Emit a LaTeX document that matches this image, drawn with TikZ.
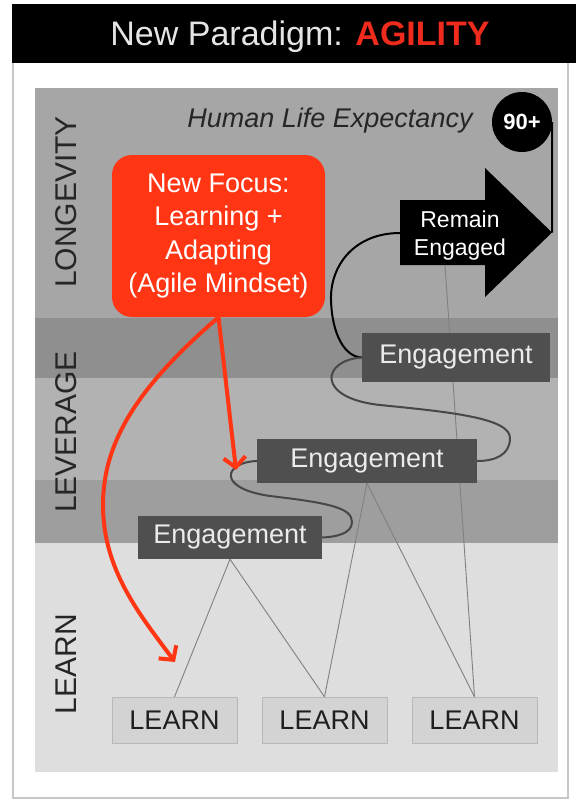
\documentclass[tikz,border=0pt]{standalone}
\usepackage{fontspec}
\setmainfont{Liberation Sans}
\usetikzlibrary{arrows.meta}

\definecolor{agilered}{HTML}{FF3514}
\definecolor{titlered}{HTML}{EE2B1C}
\definecolor{enggray}{HTML}{4F4F4F}
\definecolor{learngray}{HTML}{D3D3D3}

\begin{document}
\begin{tikzpicture}[x=1pt, y=-1pt,
		bandlabel/.style={rotate=90, text=black!85, font=\fontsize{30}{36}\selectfont},
		engbox/.style={fill=enggray, text=black!8, inner sep=0pt, font=\fontsize{27}{32}\selectfont},
		learnbox/.style={fill=learngray, draw=black!28, inner sep=0pt, minimum width=125pt, minimum height=46pt, text=black!88, font=\fontsize{27}{32}\selectfont},
		treeline/.style={draw=black!50, line width=0.9pt},
		loopline/.style={draw=black!72, line width=2pt},
		redarrow/.style={draw=agilered, line width=4pt, -{Straight Barb[length=10pt,width=22pt]}}]
		\useasboundingbox (0,0) rectangle (576,800);
		% Titel
		\fill[black] (12,4) rectangle (576,63);
		\node[anchor=base, font=\fontsize{34}{40}\selectfont, text=black!10] (title) at (300,46) {New Paradigm: \textcolor{titlered}{\bfseries AGILITY}};
		\draw[black!22, line width=1.5pt] (13,63) -- (13,798) -- (568,798) -- (568,63);
		% Streifen
		\fill[black!35] (35,88) rectangle (558,318);
		\fill[black!44] (35,318) rectangle (558,378);
		\fill[black!30] (35,378) rectangle (558,480);
		\fill[black!38] (35,480) rectangle (558,543);
		\fill[black!13] (35,543) rectangle (558,772);
		\node[bandlabel] (longevity) at (66,202) {LONGEVITY};
		\node[bandlabel] (leverage) at (66,432) {LEVERAGE};
		\node[bandlabel] (learn) at (66,664) {LEARN};
		% Oben
		\node[anchor=base, font=\itshape\fontsize{27}{32}\selectfont, text=black!85] (life) at (330,127) {Human Life Expectancy};
		\node[circle, fill=black, minimum size=60pt, inner sep=0pt, text=white, font=\bfseries\fontsize{22}{26}\selectfont] (age) at (522,122) {90+};
		\fill[black] (400,200) -- (485,200) -- (485,168) -- (552,232.5) -- (485,297) -- (485,265) -- (400,265) -- cycle;
		\coordinate (tail) at (400,233);
		\coordinate (tip) at (552,232.5);
		\coordinate (foot) at (445,265);
		\node[align=center, text=white, font=\fontsize{23}{28}\selectfont] (remain) at (460,236) {Remain\\Engaged};
		\draw[line width=2pt] (age.east) -- (tip);
		% LEARN Kaesten
		\node[learnbox] (learnA) at (174.5,720) {LEARN};
		\node[learnbox] (learnB) at (324.5,720) {LEARN};
		\node[learnbox] (learnC) at (474.5,720) {LEARN};
		\draw[treeline] (foot) -- (learnC.north);
		% Engagement Kaesten
		\node[engbox, minimum width=188pt, minimum height=49pt] (engA) at (456,357.5) {Engagement};
		\node[engbox, minimum width=220pt, minimum height=44pt] (engB) at (367,461) {Engagement};
		\node[engbox, minimum width=184pt, minimum height=43pt] (engC) at (230,537.5) {Engagement};
		\draw[treeline] (engC.south) -- (learnA.north);
		\draw[treeline] (engC.south) -- (learnB.north);
		\draw[treeline] (engB.south) -- (learnB.north);
		\draw[treeline] (engB.south) -- (learnC.north);
		% Schleifen
		\draw[line width=2pt] (tail) .. controls (355,233) and (330,265) .. (331,300) .. controls (332,335) and (345,357) .. (engA.west);
		\draw[loopline] (engA.west) .. controls (322,360) and (315,398) .. (380,405) .. controls (450,412) and (510,418) .. (510,438) .. controls (510,455) and (495,461) .. (engB.east);
		\draw[loopline] (engB.west) .. controls (225,462) and (215,488) .. (270,496) .. controls (330,503) and (352,508) .. (352,522) .. controls (352,534) and (335,537) .. (engC.east);
		% Fokus
		\node[fill=agilered, rounded corners=20pt, minimum width=213pt, minimum height=162pt, align=center, text=white, font=\fontsize{27}{33.5}\selectfont] (focus) at (218.5,236) {New Focus:\\Learning +\\Adapting\\(Agile Mindset)};
		\coordinate (focusTip) at (236,470);
		\coordinate (learnTip) at (175,662);
		\draw[redarrow] (focus.south) -- (focusTip);
		\draw[redarrow] (focus.south) .. controls (140,385) and (103,440) .. (103,505) .. controls (103,570) and (140,615) .. (learnTip);
	\end{tikzpicture}
\end{document}
